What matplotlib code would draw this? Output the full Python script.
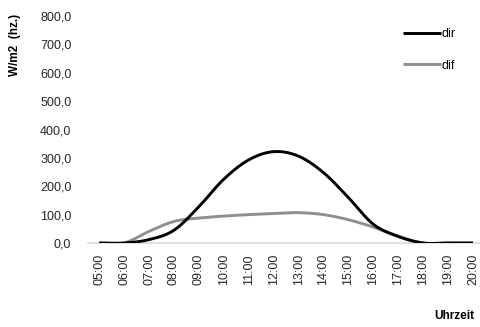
import numpy as np
import matplotlib
matplotlib.use("Agg")
import matplotlib.pyplot as plt

hours = ["05:00", "06:00", "07:00", "08:00", "09:00", "10:00", "11:00", "12:00",
         "13:00", "14:00", "15:00", "16:00", "17:00", "18:00", "19:00", "20:00"]
dir_vals = [0, 0, 12, 45, 128, 225, 293, 322, 306, 248, 160, 66, 23, 0, 0, 0]
dif_vals = [0, 0, 41, 76, 88, 95, 100, 104, 107, 100, 82, 56, 24, 0, 0, 0]
yticks = [0, 100, 200, 300, 400, 500, 600, 700, 800]


def smooth(y, n=20, t=0.5):
    """Excel-like smoothed line (Catmull-Rom through the data points)."""
    y = np.asarray(y, float)
    x = np.arange(len(y), dtype=float)
    xs, ys = [], []
    for i in range(len(y) - 1):
        p0 = y[i - 1] if i > 0 else y[i]
        p3 = y[i + 2] if i + 2 < len(y) else y[i + 1]
        p1, p2 = y[i], y[i + 1]
        m1 = t * (p2 - p0)
        m2 = t * (p3 - p1)
        s = np.linspace(0, 1, n, endpoint=False)
        h00 = 2 * s**3 - 3 * s**2 + 1
        h10 = s**3 - 2 * s**2 + s
        h01 = -2 * s**3 + 3 * s**2
        h11 = s**3 - s**2
        xs.append(x[i] + s)
        ys.append(h00 * p1 + h10 * m1 + h01 * p2 + h11 * m2)
    xs.append([x[-1]])
    ys.append([y[-1]])
    return np.concatenate(xs), np.concatenate(ys)


plt.rcParams['font.family'] = ['Liberation Sans', 'DejaVu Sans']
fig = plt.figure(figsize=(4.81, 3.27), dpi=100)
ax = fig.add_axes([88 / 481, 1 - 243 / 327, (480 - 88) / 481, (243 - 16) / 327])

xd, yd = smooth(dir_vals)
xf, yf = smooth(dif_vals)
ax.plot(xd, yd, color='black', lw=2.1, label='dir', solid_capstyle='butt', zorder=3)
ax.plot(xf, yf, color='#8f8f8f', lw=2.1, label='dif', solid_capstyle='butt', zorder=2)

ax.set_xlim(-0.45, 15.28)
ax.set_ylim(0, 800)
ax.set_yticks(yticks)
ax.set_yticklabels([f"{v:.1f}".replace('.', ',') for v in yticks], fontsize=9, color='#262626')
ax.set_xticks(range(len(hours)))
ax.set_xticklabels(hours, rotation=90, fontsize=9, color='#262626')
ax.tick_params(axis='both', length=0)
ax.tick_params(axis='y', pad=12)
ax.tick_params(axis='x', pad=8)
for s in ['top', 'right', 'left']:
    ax.spines[s].set_visible(False)
ax.spines['bottom'].set_color('#d9d9d9')
ax.spines['bottom'].set_linewidth(1.2)
ax.spines['bottom'].set_zorder(1)

fig.text(15 / 481, 1 - 45 / 327, "W/m2  (hz.)", rotation=90, fontsize=8.5,
         fontweight='bold', ha='center', va='center')
fig.text(474 / 481, 1 - 316 / 327, "Uhrzeit", fontsize=8.5, fontweight='bold',
         ha='right', va='center')

leg = fig.legend(loc='upper left', bbox_to_anchor=(397 / 481, 1 - 22 / 327),
                 frameon=False, fontsize=9, handlelength=3.0, handletextpad=0.1,
                 labelspacing=1.55, borderpad=0)

fig.savefig("out.png", dpi=100)
